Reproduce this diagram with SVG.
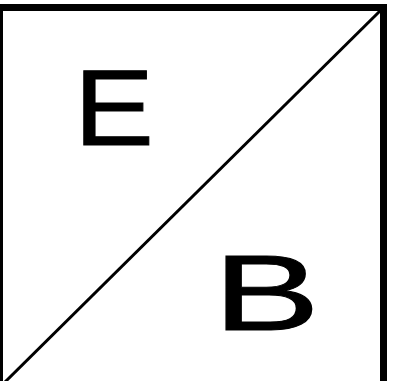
<svg xmlns="http://www.w3.org/2000/svg" width="394" height="381" viewBox="0 0 394 381">
<style>
.frame{fill:none;stroke:#000;stroke-width:7}
.diag{stroke:#000;stroke-width:3;fill:none}
.lbl{font-family:"Liberation Sans",Arial,sans-serif;font-size:107px;fill:#000;stroke:#000;stroke-width:1}
</style>
<rect width="394" height="381" fill="#fff"/>
<g id="frame">
<rect class="frame" x="-0.5" y="7.5" width="384" height="400"/>
</g>
<g id="connectors">
<line class="diag" x1="5" y1="382" x2="383" y2="8"/>
</g>
<g id="node-E">
<text class="lbl" transform="translate(74,145) scale(1.12,1)">E</text>
</g>
<g id="node-B">
<text class="lbl" transform="translate(213,330) scale(1.5,1)">B</text>
</g>
</svg>
